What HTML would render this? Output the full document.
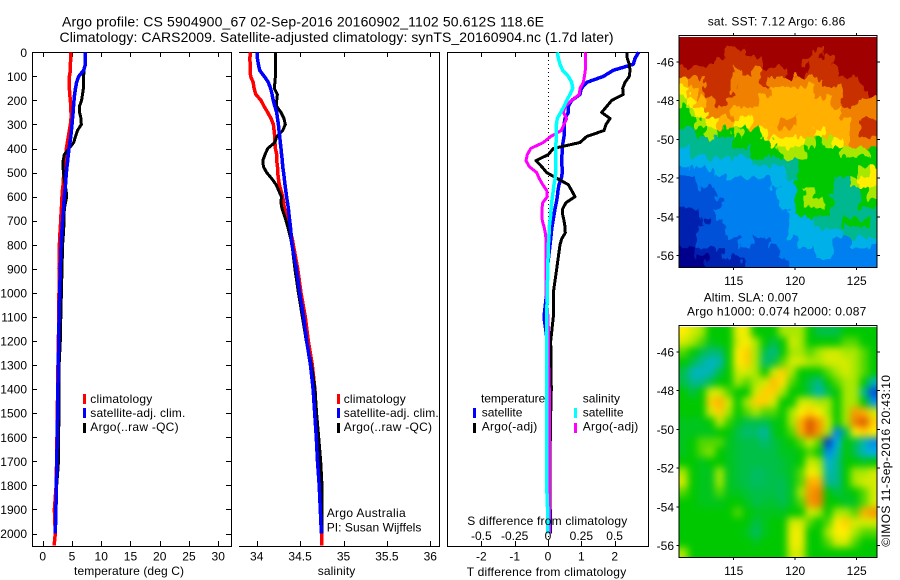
<!DOCTYPE html>
<html lang="en">
<head>
<meta charset="utf-8">
<title>Argo profile CS 5904900_67</title>
<style>
html,body{margin:0;padding:0;background:#fff;width:900px;height:580px;overflow:hidden}
svg{display:block}
text{font-family:"Liberation Sans",Arial,sans-serif;font-size:12px;fill:#000}
.title{font-size:14px}
</style>
</head>
<body>
<svg id="chart" xmlns="http://www.w3.org/2000/svg" width="900" height="580" viewBox="0 0 900 580">
  <rect width="900" height="580" fill="#fff"/>
  <defs>
    <clipPath id="clip-sst"><rect x="679" y="37" width="198.5" height="230.5"/></clipPath>
    <clipPath id="clip-sla"><rect x="679" y="327" width="198.5" height="230.5"/></clipPath>
    <filter id="sla-blur" filterUnits="userSpaceOnUse" x="650" y="300" width="250" height="280" color-interpolation-filters="sRGB"><feGaussianBlur stdDeviation="3.6"/></filter>
    <filter id="sst-blur" filterUnits="userSpaceOnUse" x="650" y="10" width="250" height="280" color-interpolation-filters="sRGB">
      <feTurbulence type="fractalNoise" baseFrequency="0.14 0.08" numOctaves="2" seed="3" result="noise"/>
      <feDisplacementMap in="SourceGraphic" in2="noise" scale="16" xChannelSelector="R" yChannelSelector="G"/>
    </filter>
  </defs>

  <text class="title" x="62" y="26.5" textLength="482" lengthAdjust="spacing">Argo profile: CS 5904900_67 02-Sep-2016 20160902_1102 50.612S 118.6E</text>
  <text class="title" x="59.5" y="42" textLength="554" lengthAdjust="spacing">Climatology: CARS2009. Satellite-adjusted climatology: synTS_20160904.nc (1.7d later)</text>

  <g id="map-sst"></g>
  <g id="map-sla"></g>
  <g id="frames"></g>
  <g id="series"></g>
  <g id="ticklabels"></g>

  <text x="74" y="575" textLength="110" lengthAdjust="spacing">temperature (deg C)</text>
  <text x="317.7" y="575" textLength="37.6" lengthAdjust="spacing">salinity</text>
  <text x="467.3" y="525" textLength="160" lengthAdjust="spacing">S difference from climatology</text>
  <text x="466.7" y="576" textLength="159.5" lengthAdjust="spacing">T difference from climatology</text>

  <g>
    <rect x="83" y="394" width="3" height="10" fill="#f00"/>
    <text x="90.3" y="403" textLength="62" lengthAdjust="spacing">climatology</text>
    <rect x="83" y="408" width="3" height="10" fill="#00f"/>
    <text x="90.3" y="417" textLength="95" lengthAdjust="spacing">satellite-adj. clim.</text>
    <rect x="83" y="423" width="3" height="10" fill="#000"/>
    <text x="90.3" y="431" textLength="88.3" lengthAdjust="spacing">Argo(..raw -QC)</text>
  </g>
  <g>
    <rect x="337" y="394" width="3" height="10" fill="#f00"/>
    <text x="343.7" y="403" textLength="62" lengthAdjust="spacing">climatology</text>
    <rect x="337" y="408" width="3" height="10" fill="#00f"/>
    <text x="343.7" y="417" textLength="95" lengthAdjust="spacing">satellite-adj. clim.</text>
    <rect x="337" y="423" width="3" height="10" fill="#000"/>
    <text x="343.7" y="431" textLength="88.3" lengthAdjust="spacing">Argo(..raw -QC)</text>
  </g>
  <text x="326.7" y="517" textLength="79" lengthAdjust="spacing">Argo Australia</text>
  <text x="326.7" y="531.7" textLength="94.7" lengthAdjust="spacing">PI: Susan Wijffels</text>

  <g>
    <text x="481" y="402.7" textLength="64.3" lengthAdjust="spacing">temperature</text>
    <text x="582.7" y="402.7" textLength="37.3" lengthAdjust="spacing">salinity</text>
    <rect x="473" y="408" width="3" height="10" fill="#00f"/>
    <text x="481.7" y="416.7" textLength="40.7" lengthAdjust="spacing">satellite</text>
    <rect x="473" y="423" width="3" height="10" fill="#000"/>
    <text x="481.7" y="430.7" textLength="55.6" lengthAdjust="spacing">Argo(-adj)</text>
    <rect x="574" y="408" width="3" height="10" fill="#0ff"/>
    <text x="582.7" y="416.7" textLength="40.8" lengthAdjust="spacing">satellite</text>
    <rect x="574" y="423" width="3" height="10" fill="#f0f"/>
    <text x="582.7" y="430.7" textLength="55.6" lengthAdjust="spacing">Argo(-adj)</text>
  </g>

  <text x="707.7" y="25.3" textLength="137.6" lengthAdjust="spacing">sat. SST: 7.12 Argo: 6.86</text>
  <text x="703.7" y="301.7" textLength="94.3" lengthAdjust="spacing">Altim. SLA: 0.007</text>
  <text x="687" y="315.7" textLength="179.3" lengthAdjust="spacing">Argo h1000: 0.074 h2000: 0.087</text>
  <text transform="translate(890 546.7) rotate(-90)" x="0" y="0" textLength="171.7" lengthAdjust="spacing">©IMOS 11-Sep-2016 20:43:10</text>
</svg>

<script>
// Depth levels (m) shared by every profile series
const depths = [0,25,50,75,100,125,150,175,200,225,250,275,300,325,350,375,400,425,450,475,500,525,550,575,600,625,650,675,700,725,750,775,800,900,1000,1100,1200,1300,1400,1500,1600,1700,1800,1900,2000,2050];

// Temperature (deg C)
const tempClim = [4.79,4.79,4.73,4.73,4.56,4.56,4.56,4.62,4.73,4.79,4.84,4.84,4.73,4.56,4.39,4.22,4.05,3.93,3.82,3.7,3.65,3.53,3.48,3.36,3.3,3.25,3.19,3.13,3.08,3.02,2.96,2.9,2.85,2.79,2.79,2.75,2.68,2.62,2.56,2.5,2.45,2.38,2.3,2.0,2.15,1.95];
const tempArgo = [7.3,7.3,7.3,7.05,7.0,6.97,6.95,6.8,6.65,6.27,6.3,6.55,6.6,5.95,5.6,5.3,4.5,3.7,3.5,3.45,3.55,3.7,3.8,4.0,4.1,3.9,3.7,3.68,3.65,3.6,3.55,3.47,3.4,3.3,3.2,3.1,3.0,2.8,2.8,2.8,2.7,2.7,2.4,2.2,2.15,null];
const tempSat = [7.3,7.3,7.3,7.0,6.15,5.8,5.6,5.45,5.35,5.27,5.2,5.1,5.0,4.9,4.8,4.65,4.5,4.38,4.27,4.15,4.05,3.97,3.9,3.8,3.7,3.62,3.55,3.47,3.4,3.34,3.27,3.2,3.15,3.0,2.9,2.8,2.73,2.67,2.6,2.55,2.5,2.4,2.35,2.25,2.15,null];

// Salinity
const salClim = [33.93,33.92,33.925,33.925,33.93,33.96,33.97,33.99,34.05,34.085,34.127,34.165,34.192,34.2,34.207,34.21,34.215,34.23,34.23,34.24,34.242,34.25,34.26,34.28,34.3,34.31,34.32,34.35,34.357,34.375,34.39,34.41,34.422,34.472,34.51,34.56,34.595,34.64,34.67,34.685,34.7,34.72,34.73,34.745,34.75,34.75];
const salArgo = [34.215,34.215,34.215,34.215,34.215,34.21,34.203,34.238,34.23,34.23,34.28,34.315,34.33,34.3,34.23,34.21,34.127,34.096,34.07,34.077,34.115,34.173,34.223,34.253,34.284,34.28,34.292,34.315,34.338,34.357,34.376,34.392,34.407,34.44,34.48,34.526,34.572,34.63,34.672,34.69,34.714,34.737,34.752,34.752,34.752,null];
const salSat = [34.008,34.008,34.02,34.035,34.088,34.134,34.16,34.177,34.19,34.21,34.23,34.24,34.25,34.257,34.265,34.272,34.28,34.287,34.295,34.3,34.31,34.318,34.326,34.335,34.345,34.355,34.365,34.372,34.38,34.388,34.395,34.4,34.407,34.457,34.495,34.54,34.576,34.62,34.65,34.668,34.687,34.7,34.72,34.733,34.745,null];

// Differences from climatology
const diffTSat = [2.72,2.61,2.56,1.96,1.66,1.16,1.0,0.96,0.71,0.61,0.61,0.51,0.48,0.48,0.48,0.45,0.43,0.42,0.41,0.42,0.43,0.40,0.33,0.30,0.28,0.25,0.21,0.18,0.15,0.12,0.10,0.08,0.06,-0.02,-0.04,-0.12,-0.02,-0.02,-0.02,0,0,0,0.04,0.06,0.06,null];
const diffTArgo = [2.36,2.38,2.44,2.46,2.44,2.31,2.24,2.26,1.91,1.76,1.61,1.86,1.74,1.68,1.16,0.96,0.16,0.01,-0.36,-0.19,-0.04,0.28,0.61,0.71,0.81,0.54,0.44,0.44,0.48,0.51,0.52,0.41,0.36,0.26,0.16,0.16,0.08,0.09,0.1,0.08,0.07,0.06,0.06,0.06,0.06,null];
const diffSArgo = [0.283,0.28,0.28,0.28,0.273,0.265,0.24,0.235,0.178,0.128,0.115,0.14,0.12,0.10,0.02,-0.035,-0.13,-0.155,-0.165,-0.14,-0.085,-0.065,-0.04,-0.01,-0.005,-0.04,-0.045,-0.045,-0.043,-0.03,-0.02,-0.015,-0.015,-0.015,-0.015,0,0.005,0.005,0.01,0.01,0.012,0.012,0.012,0.012,0.012,null];
const diffSSat = [0.07,0.078,0.09,0.11,0.153,0.178,0.185,0.165,0.14,0.12,0.095,0.07,0.063,0.063,0.06,0.06,0.058,0.058,0.058,0.058,0.058,0.053,0.045,0.04,0.033,0.028,0.023,0.02,0.015,0.01,0.008,0.005,0.003,-0.002,-0.005,-0.01,-0.01,-0.01,-0.01,-0.01,-0.01,-0.01,-0.01,-0.003,-0.002,null];

// Tick labels
const depthTicks = [0,100,200,300,400,500,600,700,800,900,1000,1100,1200,1300,1400,1500,1600,1700,1800,1900,2000];
const tempTicks = [0,5,10,15,20,25,30];
const salTicks = [34,34.5,35,35.5,36];
const diffTTicks = [-2,-1,0,1,2];
const diffSTicks = [-0.5,-0.25,0,0.25,0.5];
const latTicks = [-46,-48,-50,-52,-54,-56];
const lonTicks = [115,120,125];

// Satellite SST colour levels, 23 rows north to south, 22 columns west to east
const sstGrid = [
[12,12,12,12,12,12,12,12,12,12,12,12,12,12,12,12,12,12,12,12,12,12],
[12,12,12,12,12,11,11,12,12,12,12,12,12,12,12,11,12,12,12,12,12,12],
[12,12,12,12,11,11,11,11,11,12,12,12,12,12,11,11,11,12,12,12,12,12],
[11,11,11,11,11,11,10,11,10,11,11,11,12,12,11,11,11,11,12,12,12,12],
[9,10,10,11,11,11,10,10,10,11,10,10,10,10,10,10,11,11,11,11,12,12],
[8,9,10,11,11,11,10,10,10,10,9,9,9,9,9,10,10,10,11,11,11,12],
[7,8,9,10,11,10,10,10,10,9,9,9,9,9,9,9,9,10,11,11,10,10],
[6,7,8,10,10,10,9,9,9,9,9,9,9,9,9,9,9,9,10,10,10,10],
[6,6,7,8,9,9,8,8,9,9,9,10,10,9,9,9,9,9,9,10,11,11],
[5,5,6,7,6,6,7,6,6,8,9,9,9,9,9,8,9,9,9,10,11,11],
[5,5,5,5,5,5,6,6,6,6,8,8,8,8,7,6,7,8,9,10,10,10],
[4,5,5,5,5,5,5,5,6,6,6,7,7,7,6,6,6,6,7,7,7,6],
[4,4,4,4,4,4,4,4,5,5,5,5,5,6,6,6,6,6,6,6,6,6],
[3,3,3,3,4,4,4,4,4,4,4,4,5,6,6,6,6,6,6,6,7,8],
[2,2,3,3,3,3,3,3,3,3,4,4,4,6,6,6,6,5,5,7,8,8],
[2,2,2,2,3,3,3,3,3,3,3,4,4,6,7,6,6,5,5,5,6,7],
[2,2,2,2,2,3,3,3,3,3,3,4,4,6,7,7,6,5,5,5,6,6],
[1,1,2,2,3,3,3,3,3,3,3,3,4,6,6,6,6,5,5,5,5,5],
[1,1,1,2,2,3,3,3,3,3,3,3,4,4,4,5,5,5,6,6,6,5],
[1,1,2,2,2,3,3,3,3,3,3,3,4,4,4,4,4,4,5,5,5,5],
[1,1,2,2,2,2,2,3,2,2,3,3,3,4,4,4,4,3,3,4,4,4],
[0,0,1,1,1,2,2,2,2,2,2,3,3,3,3,4,4,3,3,3,3,3],
[0,0,0,1,1,1,1,2,2,2,2,2,3,3,3,3,3,3,3,3,3,3]
];

// Altimeter SLA colour levels, 23 rows north to south, 22 columns west to east
const slaGrid = [
[8,7.5,7,6,6,6,7.8,7.8,6,6,6,7,7,7,6,5.5,5.5,5.5,6,6,6,6],
[7.5,7,6.5,5.8,6,6,7.5,8,7,6,5.5,6,7.5,7,6,6,6,6,6.5,6.5,6,6],
[6.5,6,5.5,5.2,5.2,6,8,8.5,7,5.5,5,6,7,7,6.5,7,7.5,7.5,7,7,6.5,6],
[6,5.5,5,4.4,4.6,6,8,8.5,7,5.2,5.5,6.5,7.5,7.5,7,7,7.5,7.5,7.5,7,6.5,6],
[5.5,4.5,4.4,4.6,5.5,6,7.5,7.5,7,6,7.5,8.5,7,6,6,6,6.5,7,7.5,7,6.5,6],
[5.5,5,5,5.5,6,6,7,6.5,7,7.5,8.8,8.2,6.5,6,5.5,5,6,6.5,7,7,6,4.5],
[6,5.5,6,7.5,7.5,6.5,6,6,7.5,8.5,8.5,7,6,6,5.5,4.6,5.5,6,7,7,5,2],
[6,6,6,8.5,9,7.5,6,7,8.5,8.5,7.5,6,6,7.5,7.5,7,7,6,7,7,6,3.5],
[6,6,6,7.5,8.5,7,6,6.5,7,6.5,6.5,6,7,8,8.5,8,7,6,7,9.5,9,7.5],
[5.8,5.8,5.8,6,7.3,6.3,5.8,5.5,5.5,5.5,5.8,6,7,9,10.5,9.5,7.5,6,7,10,10.5,8.5],
[5.8,5.8,5.8,5.8,6,6,5.5,5.2,5.3,4.6,5.8,6,6.5,9,10.5,9.5,7,3,5.5,8,8.5,8],
[5.8,6,6.5,6.5,6.5,5.8,5.6,5.5,5.5,5.2,5.5,5.8,6,6.5,7.5,6.5,1.5,4,6,5.5,4.6,3.2],
[5.8,6,6.5,6.8,6,5.8,5.6,5.5,5.5,5.5,5.5,5.8,5.8,6,6.5,6,3.2,4.6,6,5.4,4.4,4],
[6,6,5.8,6,6,5.8,5.6,5.5,5.5,5.5,5.5,5.6,5.8,6,7.5,7,4.2,5,6,6,5.8,6],
[7,6,5.8,5.8,7,5.8,5.6,5.5,5.3,5.4,5.5,5.6,5.8,6.5,8,7.5,4.6,5,6,7,7,7.5],
[7.5,6,5.8,5.8,7,5.8,5.6,5.5,5.3,5.4,5.5,5.4,5.8,6.5,9,9,5,5,6,7,7.5,7.5],
[6.5,6,5.8,5.8,6.5,5.8,5.8,5.6,5.5,5.5,5.5,5.4,5.8,7,9.5,10,6,5.5,5.8,6,6.5,7.5],
[6,6,5.8,5.8,5.8,6,6,5.8,5.5,5.6,5.7,5.4,5.8,6.5,9.5,10,6,6,5.7,5.8,6.5,7.5],
[6,6,6,6,6,6,6.5,6,5.8,5.8,5.8,5.8,6,6,7.5,7,6,7,7,6.5,9,9.5],
[6,6,6,6,6,6,6,6,5.5,5.8,6,6,7.5,7.5,6.5,6,6.5,8,8.5,7.5,7.5,7.5],
[6,6,6,6,6,6,6,5.8,5.3,5.8,6,6,7.8,7.8,6,6,7,8,8,7,6.5,6.5],
[6,6,6,6,6,6,6,6,5.8,6,6,6,7.8,7.8,6,6,6.5,7.5,7.5,6.5,6,6],
[7,6,6,6,6,6,6,6,6,6,6,6,7.5,7.5,6,6,6,6,6,6,6,6]
];

const NS = 'http://www.w3.org/2000/svg';
function make(tag, attrs, parent) {
  const n = document.createElementNS(NS, tag);
  for (const k in attrs) n.setAttribute(k, attrs[k]);
  parent.appendChild(n);
  return n;
}

// Axis functions
const yDepth = d => 52.3 + d * 0.2406;
const xTemp = t => 42.7 + t * 5.85;
const xSal = s => 256.7 + (s - 34) * 86.8;
const xDiffT = t => 548 + t * 33.33;
const xDiffS = s => 548 + s * 133.3;
const xLon = lon => 733.7 + (lon - 115) * 12.3;
const yLat = (lat, top) => top + 27 + (-46 - lat) * 19.37;

// Colour ramp for the maps
const ramp = [[0,0,140],[0,32,176],[0,80,216],[0,128,240],[0,176,232],[0,184,144],[0,200,0],[168,232,0],[255,238,0],[255,176,0],[240,128,0],[200,48,0],[160,0,0]];
function colour(v) {
  const c = Math.max(0, Math.min(12, v));
  const i = Math.min(11, Math.floor(c));
  const f = c - i;
  const m = [0,1,2].map(k => Math.round(ramp[i][k] + (ramp[i + 1][k] - ramp[i][k]) * f));
  return 'rgb(' + m.join(',') + ')';
}

function drawMap(root, grid, top, filterId, clipId, cellName) {
  const left = 679, width = 198.5, height = 230.5, imgTop = top + 2, pad = 20;
  const clipG = make('g', {'clip-path': 'url(#' + clipId + ')'}, root);
  const cells = make('g', {filter: 'url(#' + filterId + ')'}, clipG);
  const rows = grid.length, cols = grid[0].length;
  const cw = width / cols, ch = height / rows;
  grid.forEach((row, r) => {
    row.forEach((v, c) => {
      const x0 = c === 0 ? left - pad : left + c * cw;
      const x1 = c === cols - 1 ? left + width + pad : left + (c + 1) * cw + 0.6;
      const y0 = r === 0 ? imgTop - pad : imgTop + r * ch;
      const y1 = r === rows - 1 ? imgTop + height + pad : imgTop + (r + 1) * ch + 0.6;
      const cell = make('rect', {x: x0, y: y0, width: x1 - x0, height: y1 - y0, fill: colour(v)}, cells);
      
      
    });
  });
  const frame = make('rect', {x: 679, y: top + 0.5, width: 198, height: 232, fill: 'none', stroke: '#000', 'stroke-width': 1, 'shape-rendering': 'crispEdges'}, root);
  
  
  const tickPath = [];
  lonTicks.forEach(lon => {
    const x = xLon(lon);
    tickPath.push('M' + x + ' ' + top + 'V' + (top - 2));
    tickPath.push('M' + x + ' ' + (top + 232.5) + 'V' + (top + 235));
    const lab = make('text', {x: x, y: top + 250, 'text-anchor': 'middle'}, root);
    lab.textContent = String(lon);
    
    
  });
  latTicks.forEach(lat => {
    const y = yLat(lat, top);
    tickPath.push('M679 ' + y + 'H676.5');
    tickPath.push('M877.5 ' + y + 'H880');
    const lab = make('text', {x: 674, y: y + 4.5, 'text-anchor': 'end'}, root);
    lab.textContent = String(lat);
    
    
  });
  const ticks = make('path', {d: tickPath.join(''), stroke: '#000', fill: 'none', 'shape-rendering': 'crispEdges'}, root);
  
  
}

drawMap(document.getElementById('map-sst'), sstGrid, 35, 'sst-blur', 'clip-sst', 'sst-cell');
drawMap(document.getElementById('map-sla'), slaGrid, 325, 'sla-blur', 'clip-sla', 'sla-cell');

// Axes frames and ticks
const frames = document.getElementById('frames');
const labels = document.getElementById('ticklabels');
function drawPanel(name, l, r, sides, xTicks, xFn, yTicksOn) {
  let d = 'M' + l + ' 52.5H' + r + 'M' + l + ' 546.5H' + r;
  if (sides.left) d += 'M' + (l + 0.5) + ' 52V547';
  if (sides.right) d += 'M' + (r + 0.5) + ' 52V547';
  xTicks.forEach(t => {
    const x = Math.round(xFn(t)) + 0.5;
    d += 'M' + x + ' 52V57M' + x + ' 546V541';
  });
  if (yTicksOn) {
    depthTicks.forEach(v => {
      const y = Math.round(yDepth(v)) + 0.5;
      d += 'M' + l + ' ' + y + 'H' + (l + 5) + 'M' + r + ' ' + y + 'H' + (r - 5);
    });
  }
  const p = make('path', {d: d, stroke: '#000', fill: 'none', 'shape-rendering': 'crispEdges'}, frames);
  
  
}
drawPanel('temperature-axes', 32, 231, {left: true, right: true}, tempTicks, xTemp, true);
drawPanel('salinity-axes', 239, 439, {left: false, right: true}, salTicks, xSal, false);
drawPanel('difference-axes', 447, 648, {left: true, right: true}, diffTTicks, xDiffT, false);

const zero = make('line', {x1: 548.5, x2: 548.5, y1: 52, y2: 546, stroke: '#000', 'stroke-width': 1, 'stroke-dasharray': '1 3', 'shape-rendering': 'crispEdges'}, frames);



depthTicks.forEach(v => {
  const t = make('text', {x: 27, y: yDepth(v) + 4.5, 'text-anchor': 'end'}, labels);
  t.textContent = String(v);
  
  
});
tempTicks.forEach(v => {
  const t = make('text', {x: xTemp(v), y: 560.7, 'text-anchor': 'middle'}, labels);
  t.textContent = String(v);
  
  
});
salTicks.forEach(v => {
  const t = make('text', {x: xSal(v), y: 560.7, 'text-anchor': 'middle'}, labels);
  t.textContent = String(v);
  
  
});
diffTTicks.forEach(v => {
  const t = make('text', {x: xDiffT(v), y: 560.7, 'text-anchor': 'middle'}, labels);
  t.textContent = String(v);
  
  
});
diffSTicks.forEach(v => {
  const t = make('text', {x: xDiffS(v), y: 540, 'text-anchor': 'middle'}, labels);
  t.textContent = String(v);
  
  
});

// Series
const seriesRoot = document.getElementById('series');
function drawSeries(name, values, xFn, stroke, width) {
  const pts = [];
  values.forEach((v, i) => {
    if (v !== null) pts.push(xFn(v).toFixed(1) + ',' + yDepth(depths[i]).toFixed(1));
  });
  const line = make('polyline', {points: pts.join(' '), fill: 'none', stroke: stroke, 'stroke-width': width, 'stroke-linejoin': 'round', 'stroke-linecap': 'butt', 'shape-rendering': 'crispEdges'}, seriesRoot);
  
  
}
drawSeries('temperature-climatology-line', tempClim, xTemp, '#f00', 3.5);
drawSeries('temperature-argo-line', tempArgo, xTemp, '#000', 3);
drawSeries('temperature-satellite-line', tempSat, xTemp, '#00f', 3.5);
drawSeries('salinity-climatology-line', salClim, xSal, '#f00', 3.5);
drawSeries('salinity-argo-line', salArgo, xSal, '#000', 3);
drawSeries('salinity-satellite-line', salSat, xSal, '#00f', 3.5);
drawSeries('t-difference-satellite-line', diffTSat, xDiffT, '#00f', 3.5);
drawSeries('t-difference-argo-line', diffTArgo, xDiffT, '#000', 3);
drawSeries('s-difference-argo-line', diffSArgo, xDiffS, '#f0f', 3);
drawSeries('s-difference-satellite-line', diffSSat, xDiffS, '#0ff', 3.5);
</script>
</body>
</html>
